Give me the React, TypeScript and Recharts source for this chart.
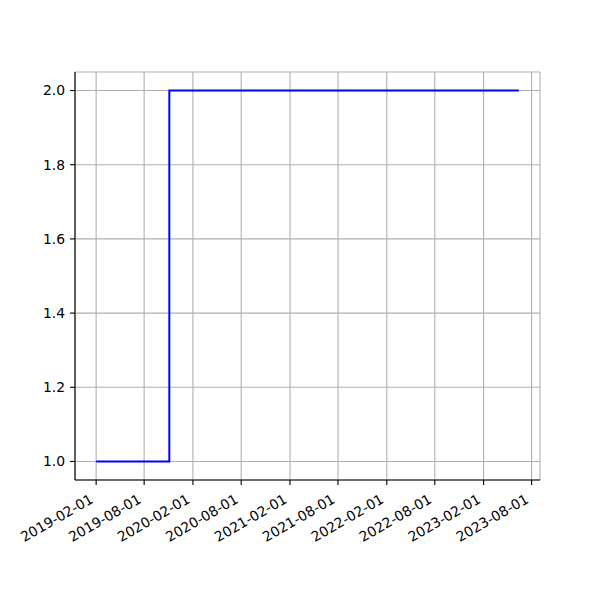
import { LineChart, Line, XAxis, YAxis, CartesianGrid } from "recharts";

const dates = ["2019-02-01", "2019-11-04", "2023-06-14"];
const values = [1, 2, 2];

const xTickLabels = [
  "2019-02-01",
  "2019-08-01",
  "2020-02-01",
  "2020-08-01",
  "2021-02-01",
  "2021-08-01",
  "2022-02-01",
  "2022-08-01",
  "2023-02-01",
  "2023-08-01",
];
const yTicks = [1.0, 1.2, 1.4, 1.6, 1.8, 2.0];

const toTime = (d: string) => Date.parse(d + "T00:00:00Z");

const data = dates.map((d, i) => ({ t: toTime(d), v: values[i] }));

const tMin = toTime(dates[0]);
const tMax = toTime(dates[dates.length - 1]);
const pad = (tMax - tMin) * 0.05;

const fmtDate = (t: number) => new Date(t).toISOString().slice(0, 10);

const FONT = "DejaVu Sans, sans-serif";

function DateTick({ x, y, payload }: any) {
  const px = x - 2;
  const py = y + 17;
  return (
    <text
      x={px}
      y={py}
      textAnchor="end"
      fontFamily={FONT}
      fontSize={13.9}
      fill="#000"
      transform={`rotate(-30, ${px}, ${py})`}
    >
      {fmtDate(payload.value)}
    </text>
  );
}

export default function App() {
  return (
    <div style={{ position: "absolute", left: 0, top: 0, background: "#fff" }}>
      <LineChart
        width={600}
        height={600}
        data={data}
        margin={{ top: 72, right: 60, bottom: 0, left: 0 }}
      >
        <CartesianGrid stroke="#b0b0b0" strokeWidth={1.1} />
        <XAxis
          dataKey="t"
          type="number"
          domain={[tMin - pad, tMax + pad]}
          ticks={xTickLabels.map(toTime)}
          interval={0}
          tick={<DateTick />}
          height={120}
          tickSize={5}
          tickMargin={0}
          stroke="#000"
          strokeWidth={1.1}
          allowDataOverflow
        />
        <XAxis
          xAxisId="top"
          orientation="top"
          dataKey="t"
          type="number"
          domain={[tMin - pad, tMax + pad]}
          height={0}
          tick={false}
          tickLine={false}
          stroke="#000"
          strokeWidth={1.1}
        />
        <YAxis
          type="number"
          domain={[0.95, 2.05]}
          ticks={yTicks}
          interval={0}
          tickFormatter={(v: number) => v.toFixed(1)}
          width={75}
          tickSize={5}
          tickMargin={5}
          stroke="#000"
          strokeWidth={1.1}
          tick={{ fill: "#000", fontSize: 13.9, fontFamily: FONT }}
        />
        <YAxis
          yAxisId="right"
          orientation="right"
          domain={[0.95, 2.05]}
          width={0}
          tick={false}
          tickLine={false}
          stroke="#000"
          strokeWidth={1.1}
        />
        <Line
          type="stepAfter"
          dataKey="v"
          stroke="#0000ff"
          strokeWidth={2}
          dot={false}
          isAnimationActive={false}
        />
      </LineChart>
    </div>
  );
}
